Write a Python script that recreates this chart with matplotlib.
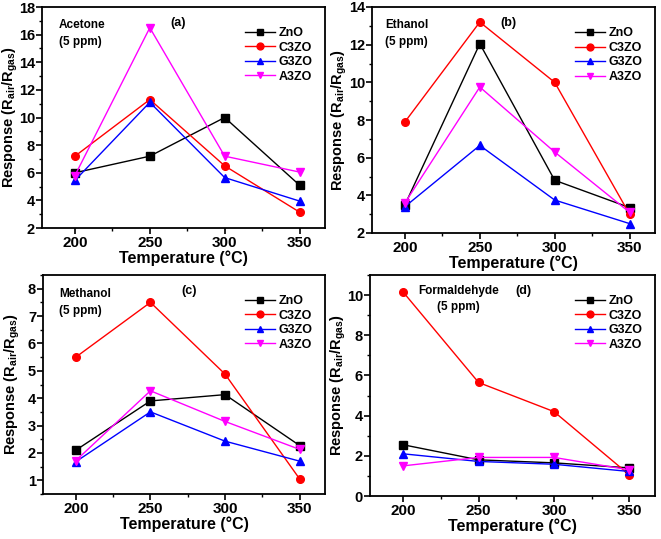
import matplotlib
matplotlib.use("Agg")
import matplotlib.pyplot as plt
from matplotlib.ticker import MultipleLocator

plt.rcParams['font.family'] = ['Liberation Sans', 'DejaVu Sans']
plt.rcParams['font.weight'] = 'bold'
plt.rcParams['mathtext.fontset'] = 'custom'
plt.rcParams['mathtext.rm'] = 'Liberation Sans:bold'
plt.rcParams['mathtext.bf'] = 'Liberation Sans:bold'
plt.rcParams['mathtext.it'] = 'Liberation Sans:bold'
plt.rcParams['mathtext.default'] = 'bf'

temps = [200, 250, 300, 350]
series_names = ["ZnO", "C3ZO", "G3ZO", "A3ZO"]

acetone_zno = [6.0, 7.2, 10.0, 5.1]
acetone_c3zo = [7.2, 11.3, 6.5, 3.15]
acetone_g3zo = [5.45, 11.1, 5.65, 3.95]
acetone_a3zo = [5.8, 16.5, 7.2, 6.05]

ethanol_zno = [3.5, 12.05, 4.8, 3.35]
ethanol_c3zo = [7.9, 13.2, 10.0, 3.0]
ethanol_g3zo = [3.4, 6.65, 3.75, 2.5]
ethanol_a3zo = [3.6, 9.75, 6.3, 3.1]

methanol_zno = [2.1, 3.9, 4.13, 2.27]
methanol_c3zo = [5.5, 7.5, 4.88, 1.05]
methanol_g3zo = [1.68, 3.5, 2.43, 1.7]
methanol_a3zo = [1.72, 4.27, 3.15, 2.13]

formaldehyde_zno = [2.55, 1.8, 1.65, 1.4]
formaldehyde_c3zo = [10.15, 5.65, 4.2, 1.05]
formaldehyde_g3zo = [2.1, 1.72, 1.58, 1.22]
formaldehyde_a3zo = [1.5, 1.92, 1.92, 1.3]

colors = ["black", "red", "blue", "magenta"]
markers = ["s", "o", "^", "v"]

W, H = 661, 539
fig = plt.figure(figsize=(W / 100, H / 100), dpi=100)

def rect(l, r, t, b):
    return [l / W, (H - b) / H, (r - l) / W, (b - t) / H]

panels = [
    dict(rect=rect(42, 325, 7, 228), data=[acetone_zno, acetone_c3zo, acetone_g3zo, acetone_a3zo],
         ylim=(2, 18), major=2, minor=1, gas="Acetone\n(5 ppm)", gaspos=(0.06, 0.945), ha='left',
         lab="(a)", labpos=(0.452, 0.955), ylx=-0.0795),
    dict(rect=rect(372, 655, 7, 233), data=[ethanol_zno, ethanol_c3zo, ethanol_g3zo, ethanol_a3zo],
         ylim=(2, 14), major=2, minor=1, gas="Ethanol\n(5 ppm)", gaspos=(0.046, 0.945), ha='left',
         lab="(b)", labpos=(0.452, 0.955), ylx=-0.082),
    dict(rect=rect(43, 325, 275, 494), data=[methanol_zno, methanol_c3zo, methanol_g3zo, methanol_a3zo],
         ylim=(0.5, 8.5), major=1, minor=0.5, gas="Methanol\n(5 ppm)", gaspos=(0.057, 0.94), ha='left',
         lab="(c)", labpos=(0.49, 0.955), ylx=-0.074),
    dict(rect=rect(370, 655, 275, 496), data=[formaldehyde_zno, formaldehyde_c3zo, formaldehyde_g3zo, formaldehyde_a3zo],
         ylim=(0, 11), major=2, minor=1, gas="Formaldehyde\n(5 ppm)", gaspos=(0.31, 0.955), ha='center',
         lab="(d)", labpos=(0.51, 0.955), ylx=-0.078),
]

for p in panels:
    ax = fig.add_axes(p["rect"])
    for name, vals, c, m in zip(series_names, p["data"], colors, markers):
        ax.plot(temps, vals, color=c, marker=m, markersize=5.5, linewidth=1.0, label=name)
    ax.set_xlim(178, 367)
    ax.set_ylim(*p["ylim"])
    ax.set_xticks(temps)
    ax.xaxis.set_minor_locator(MultipleLocator(25))
    ax.yaxis.set_major_locator(MultipleLocator(p["major"]))
    ax.yaxis.set_minor_locator(MultipleLocator(p["minor"]))
    ax.tick_params(axis='both', which='major', direction='out', length=4, width=1.2, labelsize=10.5, pad=1.0)
    ax.tick_params(axis='x', which='major', labelsize=11, pad=2)
    ax.tick_params(axis='both', which='minor', direction='out', length=2.5, width=1.0)
    for lbl in ax.get_xticklabels() + ax.get_yticklabels():
        lbl.set_fontweight('bold')
    for s in ax.spines.values():
        s.set_linewidth(1.3)
    ax.set_xlabel("Temperature (°C)", fontsize=11.5, fontweight='bold', labelpad=0)
    ax.set_ylabel(r"Response (R$_{\mathbf{air}}$/R$_{\mathbf{gas}}$)", fontsize=10.5, fontweight='bold')
    ax.yaxis.set_label_coords(p["ylx"], 0.5)
    ax.text(p["gaspos"][0], p["gaspos"][1], p["gas"], transform=ax.transAxes, ha=p["ha"],
            va='top', fontsize=8.5, fontweight='bold', linespacing=1.5)
    ax.text(p["labpos"][0], p["labpos"][1], p["lab"], transform=ax.transAxes, ha='left', va='top',
            fontsize=9, fontweight='bold')
    ax.legend(loc='upper right', bbox_to_anchor=(1.0, 0.965), frameon=False, handlelength=2.4,
              handletextpad=0.3, labelspacing=0.2, borderaxespad=0.6, markerscale=0.9,
              prop={'weight': 'bold', 'size': 9})

fig.savefig("out.png", dpi=100)
